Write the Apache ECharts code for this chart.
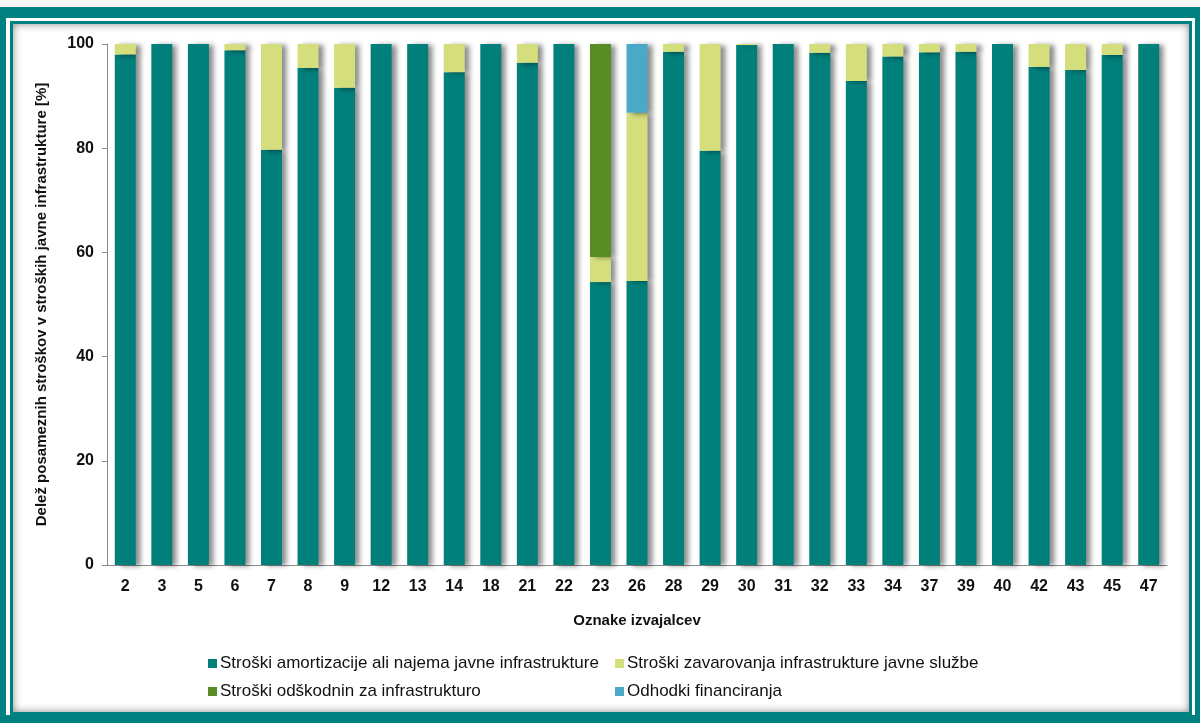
<!DOCTYPE html>
<html>
<head>
<meta charset="utf-8">
<script src="https://cdn.jsdelivr.net/npm/echarts@6/dist/echarts.min.js"></script>
<style>
  html, body { margin: 0; padding: 0; }
  body { width: 1200px; height: 723px; position: relative; overflow: hidden;
         background: linear-gradient(#f6f8f8, #e9eeee); }
  .outer { position: absolute; left: 0; top: 7px; width: 1200px; height: 716px;
           box-sizing: border-box; border-style: solid; border-color: #008080;
           border-width: 11px 5px 8px 6px; background: #fff; }
  .inner { position: absolute; left: 4px; top: 3px; right: 3px; bottom: 0;
           border: 3px solid #008080; box-shadow: inset 0 0 9px rgba(0,0,0,0.45); background: #fff; }
  #chart { position: absolute; left: 0; top: 0; width: 1200px; height: 723px; }
</style>
</head>
<body>
<div class="outer"><div class="inner"></div></div>
<div id="chart"></div>
<script>
  // oznake izvajalcev
  var categories = ['2','3','5','6','7','8','9','12','13','14','18','21','22','23','26','28','29','30','31','32','33','34','37','39','40','42','43','45','47'];

  var amortizacija = [98, 100, 100, 98.8, 79.7, 95.4, 91.6, 100, 100, 94.6, 100, 96.4, 100, 54.3, 54.5, 98.5, 79.5, 99.8, 100, 98.3, 92.9, 97.6, 98.4, 98.5, 100, 95.6, 95.0, 97.9, 100];
  var zavarovanje = [2, 0, 0, 1.2, 20.3, 4.6, 8.4, 0, 0, 5.4, 0, 3.6, 0, 4.8, 32.3, 1.5, 20.5, 0.2, 0, 1.7, 7.1, 2.4, 1.6, 1.5, 0, 4.4, 5.0, 2.1, 0];
  var odskodnine = [0, 0, 0, 0, 0, 0, 0, 0, 0, 0, 0, 0, 0, 40.9, 0, 0, 0, 0, 0, 0, 0, 0, 0, 0, 0, 0, 0, 0, 0];
  var financiranje = [0, 0, 0, 0, 0, 0, 0, 0, 0, 0, 0, 0, 0, 0, 13.2, 0, 0, 0, 0, 0, 0, 0, 0, 0, 0, 0, 0, 0, 0];

  var yTicks = [0, 20, 40, 60, 80, 100];

  var names = [
    'Stroški amortizacije ali najema javne infrastrukture',
    'Stroški zavarovanja infrastrukture javne službe',
    'Stroški odškodnin za infrastrukturo',
    'Odhodki financiranja'
  ];
  var colors = ['#007f7b', '#d5de7c', '#5a8c26', '#4ba9c8'];

  var chart = echarts.init(document.getElementById('chart'));

  var font = 'Liberation Sans, Arial, sans-serif';

  // legenda: vsak element posebej, da sta stolpca poravnana
  function legendAt(i, left, top) {
    return {
      data: [names[i]],
      left: left, top: top,
      itemWidth: 9, itemHeight: 9, itemGap: 0,
      icon: 'rect',
      textStyle: { fontFamily: font, fontSize: 17, color: '#111', padding: [0, 0, 0, -2] },
      selectedMode: false
    };
  }

  function bar(i, data) {
    return {
      name: names[i],
      type: 'bar',
      stack: 'skupaj',
      data: data,
      barWidth: 21,
      itemStyle: {
        color: colors[i],
        shadowColor: 'rgba(0,0,0,0.45)',
        shadowBlur: 5,
        shadowOffsetX: 5,
        shadowOffsetY: 1
      },
      emphasis: { disabled: true }
    };
  }

  var option = {
    animation: false,
    legend: [
      legendAt(0, 203, 650),
      legendAt(1, 610, 650),
      legendAt(2, 203, 678),
      legendAt(3, 610, 678)
    ],
    grid: { left: 107, right: 33, top: 44, bottom: 158, containLabel: false },
    xAxis: {
      type: 'category',
      data: categories,
      name: 'Oznake izvajalcev',
      nameLocation: 'middle',
      nameGap: 48,
      nameTextStyle: { fontFamily: font, fontSize: 15, fontWeight: 'bold', color: '#111' },
      axisLine: { lineStyle: { color: '#8a8a8a', width: 1 } },
      axisTick: { length: 5, lineStyle: { color: '#8a8a8a' } },
      axisLabel: { fontFamily: font, fontSize: 16, fontWeight: 'bold', color: '#111', margin: 14, interval: 0 }
    },
    yAxis: {
      type: 'value',
      min: yTicks[0],
      max: yTicks[yTicks.length - 1],
      interval: 20,
      name: 'Delež posameznih stroškov v stroških javne infrastrukture [%]',
      nameLocation: 'middle',
      nameGap: 58,
      nameTextStyle: { fontFamily: font, fontSize: 15, fontWeight: 'bold', color: '#111' },
      axisLine: { show: true, lineStyle: { color: '#8a8a8a', width: 1 } },
      axisTick: { show: true, length: 5, lineStyle: { color: '#8a8a8a' } },
      splitLine: { show: false },
      axisLabel: { fontFamily: font, fontSize: 16, fontWeight: 'bold', color: '#111', margin: 13 }
    },
    series: [
      bar(0, amortizacija),
      bar(1, zavarovanje),
      bar(2, odskodnine),
      bar(3, financiranje)
    ]
  };

  chart.setOption(option);
</script>
</body>
</html>
